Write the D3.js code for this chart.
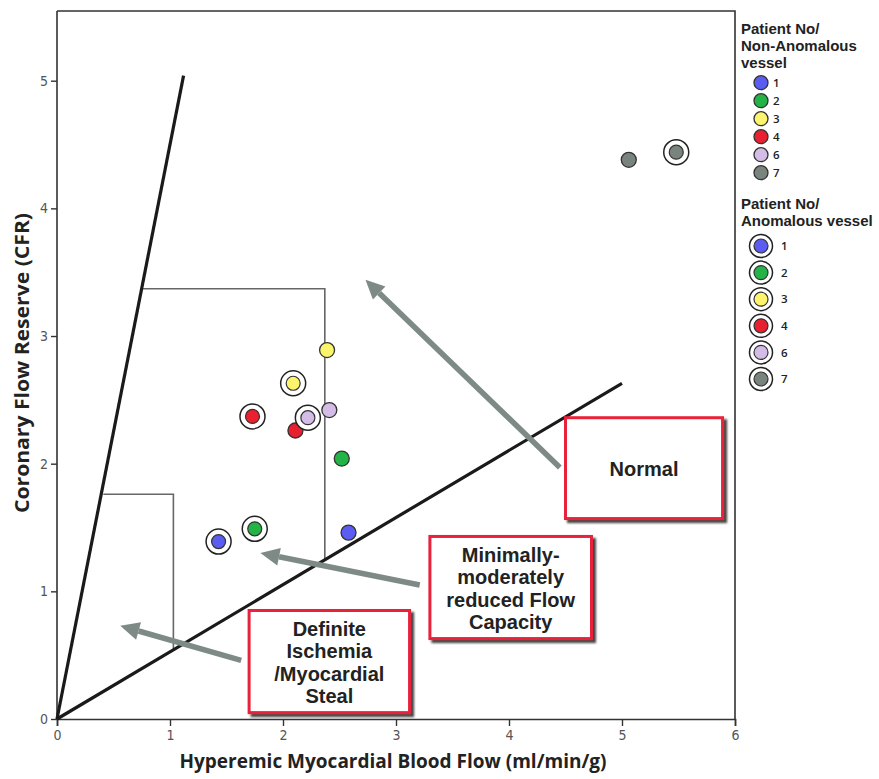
<!DOCTYPE html>
<html lang="en">

<head>
    <meta charset="UTF-8">
    <title>Flow Capacity - CFR vs Hyperemic MBF</title>
    <style>
        body { margin: 0; background: #fff; }
        text { font-family: "Open Sans", "DejaVu Sans", sans-serif; }
        .tight { font-family: "Liberation Sans", Arial, sans-serif; }
    </style>
</head>

<body>
    <script src="https://cdn.jsdelivr.net/npm/d3@7"></script>
    <script>
        // patients and their colours
        const patients = ['1', '2', '3', '4', '6', '7'];
        const colors = ['#5b5cf2', '#23b347', '#fbf46c', '#e8202f', '#d3bde6', '#7a847e'];

        // non-anomalous vessel: hyperemic MBF and CFR
        const nonAnomalousFlow = [2.58, 2.52, 2.39, 2.11, 2.41, 5.06];
        const nonAnomalousCFR = [1.46, 2.04, 2.89, 2.26, 2.42, 4.38];

        // anomalous vessel
        const anomalousFlow = [1.43, 1.75, 2.09, 1.73, 2.22, 5.48];
        const anomalousCFR = [1.39, 1.49, 2.63, 2.37, 2.36, 4.44];

        const xTicks = [0, 1, 2, 3, 4, 5, 6];
        const yTicks = [0, 1, 2, 3, 4, 5];

        // reference lines and zone outlines (data units)
        const steepLine = [[0, 0], [1.12, 5.04]];
        const flatLine = [[0, 0], [5.0, 2.63]];
        const zoneModerate = [[0.76, 3.37], [2.37, 3.37], [2.37, 1.25]];
        const zoneIschemia = [[0.41, 1.76], [1.03, 1.76], [1.03, 0.55]];

        const w = 879;
        const h = 779;
        const padLeft = 57, padRight = 735, padTop = 11, padBottom = 719;

        const xScale = d3.scaleLinear().domain([0, 6]).range([padLeft, padRight]);
        const yScale = d3.scaleLinear().domain([0, 5]).range([padBottom, padBottom - 638.3]);

        const svg = d3.select('body')
            .append('svg')
            .attr('width', w)
            .attr('height', h);

        const defs = svg.append('defs');
        defs.append('filter').attr('id', 'shadow')
            .attr('x', '-10%').attr('y', '-10%').attr('width', '130%').attr('height', '130%')
            .append('feDropShadow')
            .attr('dx', 3).attr('dy', 3).attr('stdDeviation', 1)
            .attr('flood-color', '#333').attr('flood-opacity', 0.9);

        const line = d3.line().x(d => xScale(d[0])).y(d => yScale(d[1]));

        // frame top + right
        svg.append('path')
            .attr('d', `M${padLeft},${padTop}H${padRight}V${padBottom}`)
            .attr('fill', 'none').attr('stroke', '#333').attr('stroke-width', 1.6);

        // axes
        const xAxis = svg.append('g')
            .attr('transform', `translate(0,${padBottom})`)
            .call(d3.axisBottom(xScale).tickValues(xTicks).tickFormat(d3.format('d'))
                .tickSizeOuter(0).tickSize(7).tickPadding(4));
        const yAxis = svg.append('g')
            .attr('transform', `translate(${padLeft},0)`)
            .call(d3.axisLeft(yScale).tickValues(yTicks).tickFormat(d3.format('d'))
                .tickSizeOuter(0).tickSize(6).tickPadding(3));
        yAxis.select('.domain').attr('d', `M0,${padBottom}V${padTop}`);
        [xAxis, yAxis].forEach(a => {
            a.select('.domain').attr('stroke', '#333').attr('stroke-width', 1.6);
            a.selectAll('.tick line').attr('stroke', '#333').attr('stroke-width', 1.4);
            a.selectAll('.tick text')
                .attr('fill', '#555')
                .style('font-family', '"DejaVu Sans Condensed", "DejaVu Sans", sans-serif')
                .style('font-size', '14px');
        });

        // zone outlines
        [zoneModerate, zoneIschemia].forEach(z => {
            svg.append('path').attr('d', line(z))
                .attr('fill', 'none').attr('stroke', '#666').attr('stroke-width', 1.6);
        });

        // reference lines
        [steepLine, flatLine].forEach(l => {
            svg.append('path').attr('d', line(l))
                .attr('fill', 'none').attr('stroke', '#1a1a1a').attr('stroke-width', 3.2);
        });

        // arrows
        const arrows = [
            { from: [4.45, 1.97], to: [2.73, 3.44] },
            { from: [3.21, 1.05], to: [1.80, 1.30] },
            { from: [1.63, 0.46], to: [0.56, 0.73] }
        ];
        arrows.forEach(a => {
            const x1 = xScale(a.from[0]), y1 = yScale(a.from[1]);
            const x2 = xScale(a.to[0]), y2 = yScale(a.to[1]);
            const ang = Math.atan2(y2 - y1, x2 - x1);
            const hl = 19, hw = 9;
            const bx = x2 - hl * Math.cos(ang), by = y2 - hl * Math.sin(ang);
            svg.append('line')
                .attr('x1', x1).attr('y1', y1).attr('x2', bx).attr('y2', by)
                .attr('stroke', '#7d8a85').attr('stroke-width', 5.5);
            const px = -Math.sin(ang), py = Math.cos(ang);
            svg.append('path')
                .attr('d', `M${x2},${y2}L${bx + px * hw},${by + py * hw}L${bx - px * hw},${by - py * hw}Z`)
                .attr('fill', '#7d8a85');
        });

        // annotation boxes
        const boxes = [
            { x0: 4.50, x1: 5.89, y0: 2.36, y1: 1.57, lines: ['Normal'] },
            { x0: 3.30, x1: 4.73, y0: 1.43, y1: 0.63, lines: ['Minimally-', 'moderately', 'reduced Flow', 'Capacity'] },
            { x0: 1.70, x1: 3.12, y0: 0.85, y1: 0.05, lines: ['Definite', 'Ischemia', '/Myocardial', 'Steal'] }
        ];
        boxes.forEach(b => {
            const bx = xScale(b.x0), by = yScale(b.y0);
            const bw = xScale(b.x1) - bx, bh = yScale(b.y1) - by;
            svg.append('rect')
                .attr('x', bx).attr('y', by).attr('width', bw).attr('height', bh)
                .attr('fill', '#fff').attr('stroke', '#e8213a').attr('stroke-width', 3)
                .attr('filter', 'url(#shadow)');
            const lh = 22.4;
            const cy = by + bh / 2 - (b.lines.length - 1) * lh / 2 + 1;
            const t = svg.append('text')
                .attr('class', 'tight')
                .attr('text-anchor', 'middle')
                .attr('fill', '#222')
                .style('font-size', '20px').style('font-weight', 700);
            b.lines.forEach((s, i) => {
                t.append('tspan')
                    .attr('x', bx + bw / 2).attr('y', cy + i * lh)
                    .attr('dy', '0.35em')
                    .text(s);
            });
        });

        // data points: non-anomalous
        svg.selectAll('circle.na')
            .data(patients)
            .enter()
            .append('circle')
            .attr('class', 'na')
            .attr('cx', (d, i) => xScale(nonAnomalousFlow[i]))
            .attr('cy', (d, i) => yScale(nonAnomalousCFR[i]))
            .attr('r', 7.5)
            .attr('fill', (d, i) => colors[i])
            .attr('stroke', '#333').attr('stroke-width', 1.3);

        // anomalous: ringed
        const ringed = svg.selectAll('g.an')
            .data(patients)
            .enter()
            .append('g')
            .attr('class', 'an')
            .attr('transform', (d, i) => `translate(${xScale(anomalousFlow[i])},${yScale(anomalousCFR[i])})`);
        ringed.append('circle').attr('r', 12.5)
            .attr('fill', '#fff').attr('stroke', '#222').attr('stroke-width', 1.5);
        ringed.append('circle').attr('r', 7)
            .attr('fill', (d, i) => colors[i])
            .attr('stroke', '#333').attr('stroke-width', 1.2);

        // axis titles
        svg.append('text')
            .attr('x', 393).attr('y', 768)
            .attr('text-anchor', 'middle')
            .attr('textLength', 427).attr('lengthAdjust', 'spacingAndGlyphs')
            .attr('fill', '#222')
            .style('font-size', '19px').style('font-weight', 700)
            .text('Hyperemic Myocardial Blood Flow (ml/min/g)');
        svg.append('text')
            .attr('transform', 'translate(29,363) rotate(-90)')
            .attr('text-anchor', 'middle')
            .attr('textLength', 300).attr('lengthAdjust', 'spacingAndGlyphs')
            .attr('fill', '#222')
            .style('font-size', '19px').style('font-weight', 700)
            .text('Coronary Flow Reserve (CFR)');

        // legends
        const legendTitle = (lines, y0) => {
            const t = svg.append('text')
                .attr('class', 'tight')
                .attr('fill', '#222')
                .style('font-size', '15px').style('font-weight', 700);
            lines.forEach((s, i) => {
                t.append('tspan')
                    .attr('x', 741).attr('y', y0 + i * 16.9)
                    .text(s);
            });
        };
        legendTitle(['Patient No/', 'Non-Anomalous', 'vessel'], 34);
        legendTitle(['Patient No/', 'Anomalous vessel'], 209);

        const leg1 = svg.selectAll('g.leg1')
            .data(patients)
            .enter()
            .append('g')
            .attr('class', 'leg1')
            .attr('transform', (d, i) => `translate(761,${82.7 + i * 18})`);
        leg1.append('circle').attr('r', 7)
            .attr('fill', (d, i) => colors[i])
            .attr('stroke', '#333').attr('stroke-width', 1.3);
        leg1.append('text').attr('x', 12).attr('dy', '0.36em')
            .attr('fill', '#222')
            .style('font-size', '11.5px').style('font-weight', 600)
            .text(d => d);

        const leg2 = svg.selectAll('g.leg2')
            .data(patients)
            .enter()
            .append('g')
            .attr('class', 'leg2')
            .attr('transform', (d, i) => `translate(761,${246 + i * 26.6})`);
        leg2.append('circle').attr('r', 11.5)
            .attr('fill', '#fff').attr('stroke', '#222').attr('stroke-width', 1.5);
        leg2.append('circle').attr('r', 7)
            .attr('fill', (d, i) => colors[i])
            .attr('stroke', '#333').attr('stroke-width', 1.2);
        leg2.append('text').attr('x', 20).attr('dy', '0.36em')
            .attr('fill', '#222')
            .style('font-size', '11.5px').style('font-weight', 600)
            .text(d => d);
    </script>
</body>

</html>
